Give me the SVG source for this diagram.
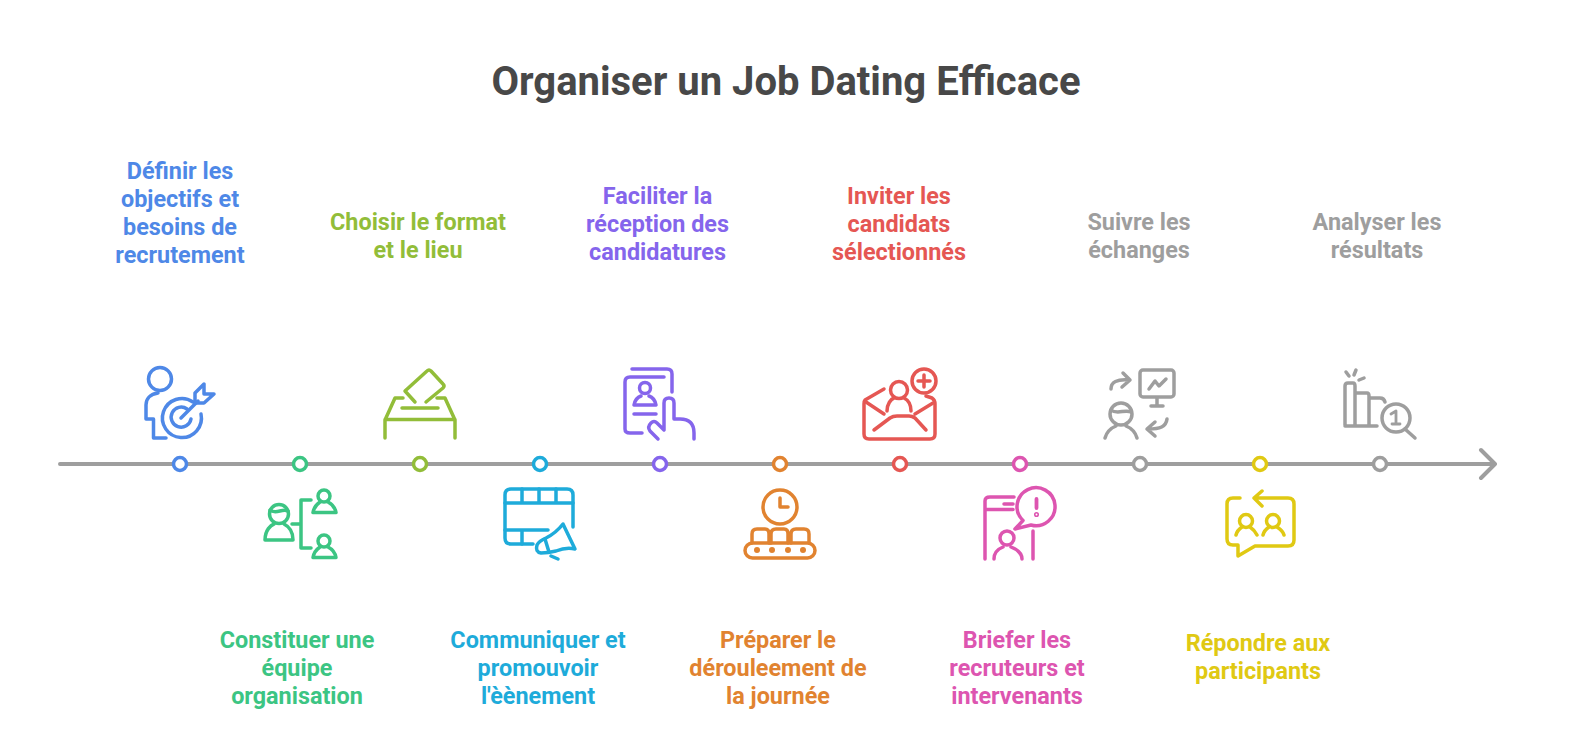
<svg xmlns="http://www.w3.org/2000/svg" width="1572" height="754" viewBox="0 0 1572 754">
<style>
text{font-family:Roboto,"Liberation Sans",sans-serif;font-weight:700;text-anchor:middle}
.t{font-size:23.4px}
.h{font-size:40px;fill:#484848}
.i{fill:none;stroke-width:3.500;stroke-linecap:round;stroke-linejoin:round}
.d{fill:#fff;stroke-width:3.500}
.blue{stroke:#4e88e7}.bt{fill:#4e88e7}
.green{stroke:#3cc583}.gt{fill:#3cc583}
.lime{stroke:#92bd39}.lt{fill:#92bd39}
.cyan{stroke:#1eabda}.ct{fill:#1eabda}
.purple{stroke:#8565ec}.pt{fill:#8565ec}
.orange{stroke:#e18330}.ot{fill:#e18330}
.red{stroke:#e55753}.rt{fill:#e55753}
.pink{stroke:#dd55b0}.kt{fill:#dd55b0}
.yellow{stroke:#e0c913}.yt{fill:#e0c913}
.grey{stroke:#9e9e9e}.xt{fill:#9e9e9e}
</style>
<text class="h" x="786" y="95">Organiser un Job Dating Efficace</text>
<g id="connectors">
<path class="i grey" style="stroke-width:4" d="M60 464H1494M1481 450L1495 464L1481 478"/>
</g>
<g id="n1">
<circle class="d blue" cx="180" cy="464" r="6.500"/>
<g class="i blue"><circle cx="160" cy="379" r="11.500"/><path d="M158 393C150 394 146 399 146 405V419H153.500V438H166"/><path d="M193 402A19.500 19.500 0 1 0 201 414"/><path d="M187 409A10 10 0 1 0 191 419"/><path d="M181 418L198 401"/><path d="M195 393L204 384V394H214L204 403H195Z"/></g>
<text class="t bt" x="180" y="179">Définir les</text><text class="t bt" x="180" y="207">objectifs et</text><text class="t bt" x="180" y="235">besoins de</text><text class="t bt" x="180" y="263">recrutement</text>
</g>
<g id="n2">
<circle class="d green" cx="300" cy="464" r="6.500"/>
<g class="i green"><circle cx="279" cy="514" r="9.500"/><path d="M270 510C276 515 282 508 288 511"/><path d="M265 540C265 530 271 525 274 524M284 524C288 526 293 531 293 540H265"/><path d="M311 500H301V548H311M292 524H301"/><circle cx="324" cy="496" r="6"/><path d="M313 512.500C314 507 317 504 320 502M328 502C332 504 335 507 336 512.500H313"/><circle cx="324" cy="541" r="6"/><path d="M313 557.500C314 552 317 549 320 547M328 547C332 549 335 552 336 557.500H313"/></g>
<text class="t gt" x="297" y="648">Constituer une</text><text class="t gt" x="297" y="676">équipe</text><text class="t gt" x="297" y="704">organisation</text>
</g>
<g id="n3">
<circle class="d lime" cx="420" cy="464" r="6.500"/>
<g class="i lime"><path d="M385 438V420L395 398H403M455 438V420L445 398H437M385 419.500H455M402 408H438"/><path d="M415 402L405 391L427 371Q429 369 431 371L443 384Q445 386 443 388L426 402"/></g>
<text class="t lt" x="418" y="230">Choisir le format</text><text class="t lt" x="418" y="258">et le lieu</text>
</g>
<g id="n4">
<circle class="d cyan" cx="540" cy="464" r="6.500"/>
<g class="i cyan"><path d="M573 527V495Q573 489 567 489H511Q505 489 505 495V538Q505 544 511 544H533"/><path d="M505 503H573M522 489V503M539 489V503M556 489V503M505 530H548M522 530V544"/><path d="M563 524L575 549Q566 547 556 551Q548 553 541 553Q535 552 537 545Q539 541 546 538Q556 533 563 524Z"/><path d="M545 539L549 552M551 556L558 559"/></g>
<text class="t ct" x="538" y="648">Communiquer et</text><text class="t ct" x="538" y="676">promouvoir</text><text class="t ct" x="538" y="704">l'èènement</text>
</g>
<g id="n5">
<circle class="d purple" cx="660" cy="464" r="6.500"/>
<g class="i purple"><path d="M632 369H667Q672 369 672 374V392"/><path d="M664 377H630Q625 377 625 382V429Q625 433 630 433H642"/><circle cx="645" cy="388" r="5.500"/><path d="M634 405C635 400 638 397 641 396M649 396C652 397 655 400 656 405H634M634 414H656"/><path d="M658 439L650 431Q647 427 651 423Q654 420 657 423L664 430V403Q664 398 669 398Q674 398 674 403V419H680Q694 419 694 433V439"/></g>
<text class="t pt" x="657.500" y="204">Faciliter la</text><text class="t pt" x="657.500" y="232">réception des</text><text class="t pt" x="657.500" y="260">candidatures</text>
</g>
<g id="n6">
<circle class="d orange" cx="780" cy="464" r="6.500"/>
<g class="i orange"><circle cx="780" cy="507" r="17"/><path d="M780 498V507H788"/><path d="M752 543V534Q752 529 757 529H765Q769 529 769 534V543M771 543V534Q771 529 776 529H784Q788 529 788 534V543M791 543V534Q791 529 796 529H804Q809 529 809 534V543"/><rect x="745" y="543" width="70" height="15" rx="7.500"/></g>
<g class="ot"><circle cx="757" cy="550" r="3"/><circle cx="772" cy="550" r="3"/><circle cx="788" cy="550" r="3"/><circle cx="803" cy="550" r="3"/></g>
<text class="t ot" x="778" y="648">Préparer le</text><text class="t ot" x="778" y="676">dérouleement de</text><text class="t ot" x="778" y="704">la journée</text>
</g>
<g id="n7">
<circle class="d red" cx="900" cy="464" r="6.500"/>
<g class="i red"><circle cx="924" cy="381" r="12"/><path d="M924 375V387M918 381H930"/><path d="M884 389L865 400Q864 401 864 404V434Q864 439 869 439H930Q935 439 935 434V404Q935 400 932 398L926 396"/><path d="M866 402L884 414M933 403L915 414M874 430L890 418Q893 416 897 416H909Q912 416 915 418L926 430"/><circle cx="899" cy="390" r="8.500"/><path d="M887 411C887 404 891 399 894 398M904 398C908 400 911 404 911 411"/></g>
<text class="t rt" x="899" y="204">Inviter les</text><text class="t rt" x="899" y="232">candidats</text><text class="t rt" x="899" y="260">sélectionnés</text>
</g>
<g id="n8">
<circle class="d pink" cx="1020" cy="464" r="6.500"/>
<g class="i pink"><path d="M985 559V501Q985 497 990 497H1014M985 509.500H1013M1004 504H1013"/><path d="M1031 525A19 19 0 1 0 1023 520.500L1015 529Z"/><path d="M1036.500 499V508" style="stroke-width:3.800"/><circle cx="1036.500" cy="514.500" r="0.800"/><path d="M1033 531V559"/><circle cx="1007" cy="538" r="7"/><path d="M994 559C994 553 998 549 1003 547M1011 547C1016 549 1022 553 1022 559"/></g>
<text class="t kt" x="1017" y="648">Briefer les</text><text class="t kt" x="1017" y="676">recruteurs et</text><text class="t kt" x="1017" y="704">intervenants</text>
</g>
<g id="n9">
<circle class="d grey" cx="1140" cy="464" r="6.500"/>
<g class="i grey"><rect x="1140" y="370" width="34" height="27" rx="3"/><path d="M1157 398V406M1151 406H1163M1149 389L1155 381L1159 386L1166 379"/><path d="M1111 389C1111 382 1117 379 1129 380M1123 373L1130 380L1122 387"/><path d="M1167 419C1166 427 1160 429 1148 429M1155 422L1147 429L1155 436"/><circle cx="1121" cy="414" r="11"/><path d="M1111 410C1117 415 1125 409 1131 412"/><path d="M1105 438C1107 431 1111 428 1116 426M1126 426C1131 428 1135 431 1137 438"/></g>
<text class="t xt" x="1139" y="230">Suivre les</text><text class="t xt" x="1139" y="258">échanges</text>
</g>
<g id="n10">
<circle class="d yellow" cx="1260" cy="464" r="6.500"/>
<g class="i yellow"><path d="M1240 498H1233Q1227 498 1227 504V539Q1227 545 1233 545H1238V556L1255 546H1288Q1294 546 1294 540V504Q1294 498 1288 498H1254M1262 491L1254 498L1262 506"/><circle cx="1246" cy="521" r="6.500"/><circle cx="1273" cy="521" r="6.500"/><path d="M1236 535C1237 531 1239 529 1242 527M1250 527C1253 529 1255 531 1257 535M1263 535C1264 531 1266 529 1269 527M1277 527C1280 529 1283 531 1284 535"/></g>
<text class="t yt" x="1258" y="651">Répondre aux</text><text class="t yt" x="1258" y="679">participants</text>
</g>
<g id="n11">
<circle class="d grey" cx="1380" cy="464" r="6.500"/>
<g class="i grey"><path d="M1345 425V386Q1345 383 1348 383H1353Q1355 383 1355 386V425M1345 426H1377M1355 393H1367Q1369 393 1369 396V425M1369 398H1380Q1384 398 1385 402"/><path d="M1346 372L1349 376M1356 370L1354 375M1364 378L1359 380"/><circle cx="1396" cy="418" r="14"/><path d="M1405 429L1415 438"/><path d="M1391 414L1396 411V424M1392 424H1400" style="stroke-width:2.800"/></g>
<text class="t xt" x="1377" y="230">Analyser les</text><text class="t xt" x="1377" y="258">résultats</text>
</g>
</svg>
